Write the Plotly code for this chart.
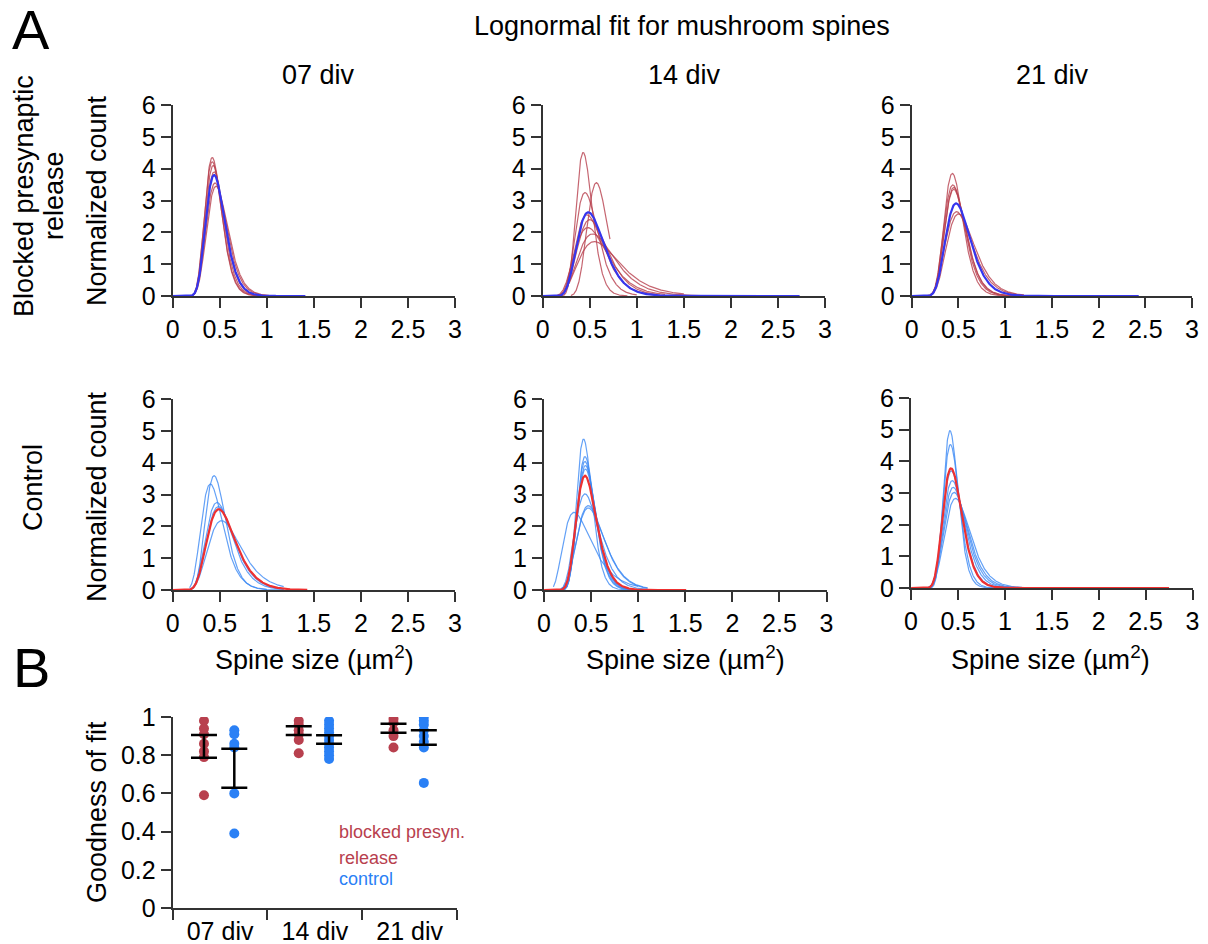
import numpy as np
import plotly.graph_objects as go

# page body adds an 8px margin; the figure is sized so the picture lines up
OFF = 8
W, H = 1208 - OFF, 944 - OFF

# ---------------- DATA ----------------
# Lognormal fit curves: mode (um^2), peak height (normalized count), x start, x end
blk07_modes = [0.42, 0.42, 0.43, 0.44, 0.45, 0.46]
blk07_peaks = [4.35, 4.22, 4.10, 3.90, 3.55, 3.45]
blk07_starts = [0.15, 0.15, 0.15, 0.15, 0.15, 0.15]
blk07_ends = [1.0, 1.0, 1.0, 1.0, 1.05, 1.05]
blk07_avg = dict(mode=0.44, peak=3.80, start=0.001, end=1.41)

blk14_modes = [0.43, 0.57, 0.45, 0.47, 0.50, 0.48, 0.53, 0.55]
blk14_peaks = [4.51, 3.56, 3.25, 2.55, 2.40, 2.15, 1.95, 1.71]
blk14_starts = [0.15, 0.30, 0.15, 0.15, 0.15, 0.15, 0.15, 0.28]
blk14_ends = [0.90, 0.715, 1.0, 1.2, 1.2, 1.3, 1.77, 1.5]
blk14_avg = dict(mode=0.485, peak=2.63, start=0.001, end=2.73)

blk21_modes = [0.435, 0.44, 0.45, 0.45, 0.48, 0.50]
blk21_peaks = [3.85, 3.49, 3.41, 3.35, 2.65, 2.58]
blk21_starts = [0.15, 0.15, 0.15, 0.15, 0.15, 0.15]
blk21_ends = [1.2, 1.2, 1.2, 1.2, 1.2, 1.2]
blk21_avg = dict(mode=0.475, peak=2.91, start=0.001, end=2.43)

ctl07_modes = [0.44, 0.40, 0.47, 0.485, 0.52]
ctl07_peaks = [3.59, 3.33, 2.75, 2.62, 2.18]
ctl07_starts = [0.18, 0.18, 0.18, 0.18, 0.18]
ctl07_ends = [1.18, 1.0, 1.18, 1.1, 1.18]
ctl07_avg = dict(mode=0.49, peak=2.54, start=0.001, end=1.43)

ctl14_modes = [0.42, 0.435, 0.435, 0.44, 0.44, 0.435, 0.47, 0.47, 0.32]
ctl14_peaks = [4.74, 4.19, 4.04, 3.91, 3.80, 3.02, 2.65, 2.58, 2.44]
ctl14_starts = [0.18, 0.18, 0.18, 0.18, 0.18, 0.18, 0.18, 0.18, 0.10]
ctl14_ends = [1.1, 1.1, 1.1, 1.1, 1.1, 1.1, 1.1, 1.1, 1.0]
ctl14_avg = dict(mode=0.435, peak=3.59, start=0.001, end=1.51)

ctl21_modes = [0.415, 0.42, 0.43, 0.44, 0.45, 0.46, 0.475]
ctl21_peaks = [4.97, 4.53, 3.70, 3.39, 3.18, 3.02, 2.83]
ctl21_starts = [0.18, 0.18, 0.18, 0.18, 0.18, 0.18, 0.18]
ctl21_ends = [1.2, 1.2, 1.2, 1.2, 1.2, 1.2, 1.2]
ctl21_avg = dict(mode=0.427, peak=3.78, start=0.001, end=2.75)

div_labels = ["07 div", "14 div", "21 div"]

# Goodness of fit (panel B)
gof_blocked = [
    [0.98, 0.94, 0.91, 0.86, 0.82, 0.79, 0.59],
    [0.98, 0.96, 0.93, 0.91, 0.88, 0.81],
    [0.99, 0.97, 0.93, 0.90, 0.84],
]
gof_control = [
    [0.93, 0.91, 0.86, 0.84, 0.60, 0.39],
    [0.98, 0.96, 0.94, 0.92, 0.90, 0.88, 0.86, 0.84, 0.82, 0.80, 0.78],
    [1.00, 0.98, 0.96, 0.93, 0.90, 0.87, 0.84, 0.655],
]
bar_blocked_low = [0.787, 0.906, 0.918]
bar_blocked_high = [0.906, 0.951, 0.965]
bar_control_low = [0.630, 0.860, 0.855]
bar_control_high = [0.834, 0.904, 0.930]

# ---------------- STYLE ----------------
RED_THIN = "#b8404e"
BLUE_AVG = "#3535ee"
BLUE_THIN = "#3d8af5"
RED_AVG = "#ee3030"
DOT_RED = "#b8404e"
DOT_BLUE = "#2a80f5"
AXC = "#333333"
FONT = "Liberation Sans, Arial, sans-serif"
TICK_SIZE = 25
TITLE_SIZE = 27


def lognormal_fit(mode, peak, x0, x1, n=400):
    s = 0.3
    for _ in range(100):
        s = np.exp(-s * s / 2) / (mode * peak * np.sqrt(2 * np.pi))
    mu = np.log(mode) + s * s
    x = np.linspace(max(x0, 1e-3), x1, n)
    y = np.exp(-(np.log(x) - mu) ** 2 / (2 * s * s)) / (x * s * np.sqrt(2 * np.pi))
    return x, y


def px(x):
    return (x - OFF) / W


def py(y):
    return 1 - (y - OFF) / H


fig = go.Figure()

panels = [
    (blk07_modes, blk07_peaks, blk07_starts, blk07_ends, blk07_avg, RED_THIN, BLUE_AVG),
    (blk14_modes, blk14_peaks, blk14_starts, blk14_ends, blk14_avg, RED_THIN, BLUE_AVG),
    (blk21_modes, blk21_peaks, blk21_starts, blk21_ends, blk21_avg, RED_THIN, BLUE_AVG),
    (ctl07_modes, ctl07_peaks, ctl07_starts, ctl07_ends, ctl07_avg, BLUE_THIN, RED_AVG),
    (ctl14_modes, ctl14_peaks, ctl14_starts, ctl14_ends, ctl14_avg, BLUE_THIN, RED_AVG),
    (ctl21_modes, ctl21_peaks, ctl21_starts, ctl21_ends, ctl21_avg, BLUE_THIN, RED_AVG),
]

# pixel boxes of each panel (left, right, top, bottom)
boxes = [
    (172.7, 455, 105, 296),
    (542.7, 825, 105, 296),
    (911.7, 1192, 105, 296),
    (172.7, 455, 399, 590),
    (544, 826.5, 399, 590),
    (911, 1192.5, 398, 588),
]

axis_common = dict(
    showline=True, linecolor=AXC, linewidth=2, ticks="outside", ticklen=10,
    tickwidth=2, tickcolor=AXC, showgrid=False, zeroline=False, automargin=False,
    tickfont=dict(size=TICK_SIZE, color="black", family=FONT),
)

layout_axes = {}
for i, (modes, peaks, starts, ends, avg, thin_col, avg_col) in enumerate(panels):
    k = i + 1
    xa = "x" if k == 1 else f"x{k}"
    ya = "y" if k == 1 else f"y{k}"
    for m, p, s0, e in zip(modes, peaks, starts, ends):
        x, y = lognormal_fit(m, p, s0, e)
        fig.add_trace(go.Scatter(x=x, y=y, mode="lines", xaxis=xa, yaxis=ya,
                                 line=dict(color=thin_col, width=1.2), opacity=0.8,
                                 showlegend=False, hoverinfo="skip"))
    x, y = lognormal_fit(avg["mode"], avg["peak"], avg["start"], avg["end"])
    fig.add_trace(go.Scatter(x=x, y=y, mode="lines", xaxis=xa, yaxis=ya,
                             line=dict(color=avg_col, width=2.2),
                             showlegend=False, hoverinfo="skip"))
    l, r, t, b = boxes[i]
    layout_axes[f"xaxis{k}"] = dict(domain=[px(l), px(r)], anchor=ya, range=[0, 3],
                                    tickvals=[0, 0.5, 1, 1.5, 2, 2.5, 3],
                                    ticktext=["0", "0.5", "1", "1.5", "2", "2.5", "3"],
                                    layer="below traces", **axis_common)
    layout_axes[f"yaxis{k}"] = dict(domain=[py(b), py(t)], anchor=xa, range=[0, 6],
                                    tickvals=[0, 1, 2, 3, 4, 5, 6],
                                    layer="below traces", **axis_common)

# ---------------- Panel B ----------------
offs_red, offs_blue = -0.17, 0.15
for j in range(3):
    xc = j + 0.5
    fig.add_trace(go.Scatter(x=[xc + offs_red] * len(gof_blocked[j]), y=gof_blocked[j],
                             mode="markers", xaxis="x7", yaxis="y7",
                             marker=dict(color=DOT_RED, size=10), showlegend=False))
    fig.add_trace(go.Scatter(x=[xc + offs_blue] * len(gof_control[j]), y=gof_control[j],
                             mode="markers", xaxis="x7", yaxis="y7",
                             marker=dict(color=DOT_BLUE, size=10), showlegend=False))
    for off, lo, hi in [(offs_red, bar_blocked_low[j], bar_blocked_high[j]),
                        (offs_blue, bar_control_low[j], bar_control_high[j])]:
        mid = (lo + hi) / 2
        fig.add_trace(go.Scatter(x=[xc + off], y=[mid], mode="markers",
                                 xaxis="x7", yaxis="y7",
                                 marker=dict(size=1, color="rgba(0,0,0,0)"),
                                 error_y=dict(type="data", array=[hi - mid], arrayminus=[mid - lo],
                                              symmetric=False, color="black",
                                              thickness=2.5, width=13),
                                 showlegend=False))

layout_axes["xaxis7"] = dict(domain=[px(172.7), px(457)], anchor="y7", range=[0, 3],
                             tickvals=[0.5, 1.5, 2.5], ticktext=div_labels,
                             showline=True, linecolor=AXC, linewidth=2, ticks="",
                             showgrid=False, zeroline=False, automargin=False,
                             minor=dict(tickmode="array", tickvals=[0, 1, 2, 3], ticks="outside",
                                        ticklen=10, tickwidth=2, tickcolor=AXC, showgrid=False),
                             tickfont=dict(size=TICK_SIZE, color="black", family=FONT))
layout_axes["yaxis7"] = dict(domain=[py(908), py(717)], anchor="x7", range=[0, 1],
                             tickvals=[0, 0.2, 0.4, 0.6, 0.8, 1],
                             ticktext=["0", "0.2", "0.4", "0.6", "0.8", "1"],
                             **axis_common)

# ---------------- Annotations ----------------
ann = []


def add_text(text, x, y, size=TITLE_SIZE, color="black", angle=0, xanchor="center", yanchor="middle"):
    ann.append(dict(text=text, x=px(x), y=py(y), xref="paper", yref="paper",
                    showarrow=False, font=dict(size=size, color=color, family=FONT),
                    textangle=angle, xanchor=xanchor, yanchor=yanchor))


add_text("A", 31, 29, size=56)
add_text("B", 31, 667, size=56)
add_text("Lognormal fit for mushroom spines", 682, 26)
for lab, xc in zip(div_labels, [318, 684, 1052]):
    add_text(lab, xc, 75)
add_text("Blocked presynaptic", 24, 196, angle=-90)
add_text("release", 54, 196, angle=-90)
add_text("Control", 33, 488, angle=-90)
add_text("Normalized count", 97, 201, angle=-90)
add_text("Normalized count", 97, 497, angle=-90)
for xc in [314, 685, 1050]:
    add_text("Spine size (µm<sup>2</sup>)", xc, 658)
add_text("Goodness of fit", 97, 812, angle=-90)
add_text("blocked presyn.", 337, 832, size=18, color=DOT_RED, xanchor="left")
add_text("release", 337, 858, size=18, color=DOT_RED, xanchor="left")
add_text("control", 337, 879, size=18, color=DOT_BLUE, xanchor="left")

fig.update_layout(
    width=W, height=H, margin=dict(l=0, r=0, t=0, b=0),
    paper_bgcolor="white", plot_bgcolor="white",
    font=dict(family=FONT, color="black"),
    annotations=ann, showlegend=False,
    **layout_axes,
)

fig.write_html("out.html")
